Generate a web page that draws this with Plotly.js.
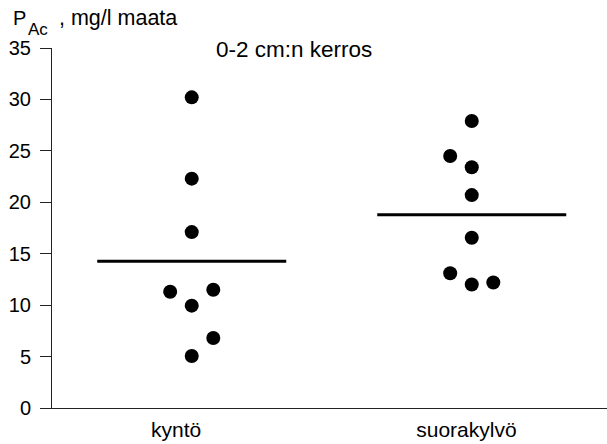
<!DOCTYPE html>
<html>
<head>
<meta charset="utf-8">
<script src="https://cdn.plot.ly/plotly-3.0.1.min.js"></script>
<style>html,body{margin:0;padding:0;background:#fff;}#chart{width:607px;height:444px;}</style>
</head>
<body>
<div id="chart"></div>
<script>
// Data
var categories = ["kyntö", "suorakylvö"];
var categoryPos = [1, 2];
var kyntoValues = [30.2, 22.3, 17.1, 11.3, 11.5, 9.95, 6.8, 5.05];
var kyntoJitter = [0, 0, 0, -1, 1, 0, 1, 0];
var suoraValues = [27.9, 24.5, 23.4, 20.7, 16.55, 13.1, 12.0, 12.2];
var suoraJitter = [0, -1, 0, 0, 0, -1, 0, 1];
var yTicks = [0, 5, 10, 15, 20, 25, 30, 35];
var labelPos = [0.944, 1.981];

var W = 607, H = 444;
var M = {l: 52, r: 0, t: 48, b: 36};
var xRange = [0.501, 2.483];
var yRange = [0, 35];
var step = 0.077, halfLine = 0.3375;
var FONT = "Liberation Sans, Arial, Helvetica, sans-serif";

function mean(a){ return a.reduce(function(s,v){return s+v;},0)/a.length; }
var groups = [
  {vals: kyntoValues, jit: kyntoJitter, pos: categoryPos[0]},
  {vals: suoraValues, jit: suoraJitter, pos: categoryPos[1]}
];
var traces = [];
groups.forEach(function(g){
  traces.push({
    type: 'scatter', mode: 'markers',
    x: g.jit.map(function(j){ return g.pos + j*step; }),
    y: g.vals,
    marker: {color: '#000', size: 14},
    hoverinfo: 'skip', showlegend: false, cliponaxis: false
  });
  var m = mean(g.vals);
  traces.push({
    type: 'scatter', mode: 'lines',
    x: [g.pos - halfLine, g.pos + halfLine],
    y: [m, m],
    line: {color: '#000', width: 3},
    hoverinfo: 'skip', showlegend: false
  });
});

function px2paperX(px){ return (px - M.l) / (W - M.l - M.r); }
function px2paperY(py){ return (H - M.b - py) / (H - M.t - M.b); }
function ann(text, px, py, size, xa, ya){
  return {text: text, xref: 'paper', yref: 'paper',
    x: px2paperX(px), y: px2paperY(py), xanchor: xa, yanchor: ya,
    showarrow: false, font: {family: FONT, size: size, color: '#000'}};
}

var layout = {
  width: W, height: H,
  margin: M,
  paper_bgcolor: '#fff', plot_bgcolor: '#fff',
  font: {family: FONT, size: 20, color: '#000'},
  showlegend: false,
  xaxis: {
    range: xRange, showgrid: false, zeroline: false,
    showline: true, linecolor: '#222', linewidth: 1,
    tickmode: 'array', tickvals: labelPos, ticktext: categories,
    ticks: '', ticklabelstandoff: 3,
    tickfont: {family: FONT, size: 21, color: '#000'},
    fixedrange: true
  },
  yaxis: {
    range: yRange, showgrid: false, zeroline: false,
    showline: true, linecolor: '#222', linewidth: 1,
    tickmode: 'array', tickvals: yTicks,
    ticks: 'outside', ticklen: 11, tickwidth: 1, tickcolor: '#222',
    ticklabelstandoff: 5,
    tickfont: {family: FONT, size: 20, color: '#000'},
    fixedrange: true
  },
  annotations: [
    ann('P', 11, 5, 20, 'left', 'top'),
    ann('Ac', 26, 18, 17, 'left', 'top'),
    ann(', mg/l maata', 57, 4, 21.5, 'left', 'top'),
    ann('0-2 cm:n kerros', 294, 50, 22.5, 'center', 'middle')
  ]
};

Plotly.newPlot('chart', traces, layout, {displayModeBar: false, staticPlot: true});
</script>
</body>
</html>
